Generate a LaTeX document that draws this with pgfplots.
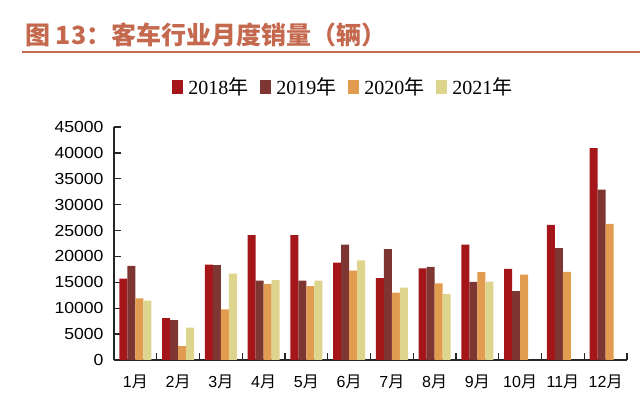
\documentclass[border=0pt]{standalone}
\usepackage{fontspec}
\usepackage{pgfplots}
\pgfplotsset{compat=1.18}
\setmainfont{Liberation Sans}
\newfontfamily\cjk{Noto Sans CJK SC}
\newfontfamily\tickfont[FakeStretch=1.1]{Liberation Sans}
\newfontfamily\legfont{Liberation Serif}
\newcommand\yue{{\cjk 月}}
\newcommand\nian{{\cjk 年}}
\definecolor{c18}{HTML}{A5161A}
\definecolor{c19}{HTML}{7E3633}
\definecolor{c20}{HTML}{E29C50}
\definecolor{c21}{HTML}{DDD48E}
\definecolor{ttl}{HTML}{C4694E}
\begin{document}
\begin{tikzpicture}
\path[use as bounding box] (0,0) rectangle (640bp,408bp);
\node[anchor=west, inner sep=0pt, text=ttl, font=\cjk\bfseries\fontsize{25bp}{28bp}\selectfont] at (25bp,373bp) {图 13：客车行业月度销量（辆）};
\draw[ttl, line width=2bp] (22bp,355.7bp) -- (640bp,355.7bp);
\begin{axis}[
  at={(114bp,48bp)}, anchor=south west,
  scale only axis, width=513bp, height=233bp,
  ybar=0pt, bar width=8bp,
  xmin=-0.5, xmax=11.5, ymin=0, ymax=45000,
  enlargelimits=false,
  axis x line*=bottom, axis y line*=left,
  axis line style={line width=1.3bp, black!85},
  tick align=inside,
  major tick length=7bp,
  tick style={line width=1.3bp, black!85},
  ytick={0,5000,...,45000},
  scaled y ticks=false,
  /pgf/number format/assume math mode=true,
  /pgf/number format/set thousands separator={},
  yticklabel style={font=\tickfont\fontsize{16bp}{18bp}\selectfont, xshift=-7bp},
  xtick={-0.5,0.5,...,11.5}, xticklabels={},
  xticklabel style={font=\fontsize{16bp}{18bp}\selectfont, yshift=-11bp},
  extra x ticks={0,1,2,3,4,5,6,7,8,9,10,11},
  extra x tick labels={1\yue,2\yue,3\yue,4\yue,5\yue,6\yue,7\yue,8\yue,9\yue,10\yue,11\yue,12\yue},
  extra x tick style={major tick length=0pt},
  legend columns=4,
  legend style={draw=none, fill=none, at={(0.447,1.172)}, anchor=center,
    font=\legfont\fontsize{20bp}{22bp}\selectfont,
    /tikz/every even column/.append style={column sep=10bp}},
]
\addplot[fill=c18, draw=none, legend image code/.code={\fill[c18] (0bp,-7bp) rectangle (11bp,7bp);}] coordinates {
(0,15700) (1,8100) (2,18400) (3,24100) (4,24100) (5,18800) (6,15800) (7,17700) (8,22300) (9,17600) (10,26100) (11,40900)};
\addlegendentry{\hspace{3bp}2018\nian}
\addplot[fill=c19, draw=none, legend image code/.code={\fill[c19] (0bp,-7bp) rectangle (11bp,7bp);}] coordinates {
(0,18200) (1,7700) (2,18300) (3,15350) (4,15350) (5,22300) (6,21400) (7,18000) (8,15100) (9,13300) (10,21600) (11,32900)};
\addlegendentry{\hspace{3bp}2019\nian}
\addplot[fill=c20, draw=none, legend image code/.code={\fill[c20] (0bp,-7bp) rectangle (11bp,7bp);}] coordinates {
(0,11900) (1,2700) (2,9800) (3,14700) (4,14250) (5,17250) (6,13000) (7,14800) (8,16950) (9,16500) (10,17000) (11,26300)};
\addlegendentry{\hspace{3bp}2020\nian}
\addplot[fill=c21, draw=none, legend image code/.code={\fill[c21] (0bp,-7bp) rectangle (11bp,7bp);}] coordinates {
(0,11450) (1,6250) (2,16700) (3,15450) (4,15350) (5,19250) (6,14000) (7,12700) (8,15150)};
\addlegendentry{\hspace{3bp}2021\nian}
\end{axis}
\end{tikzpicture}
\end{document}
